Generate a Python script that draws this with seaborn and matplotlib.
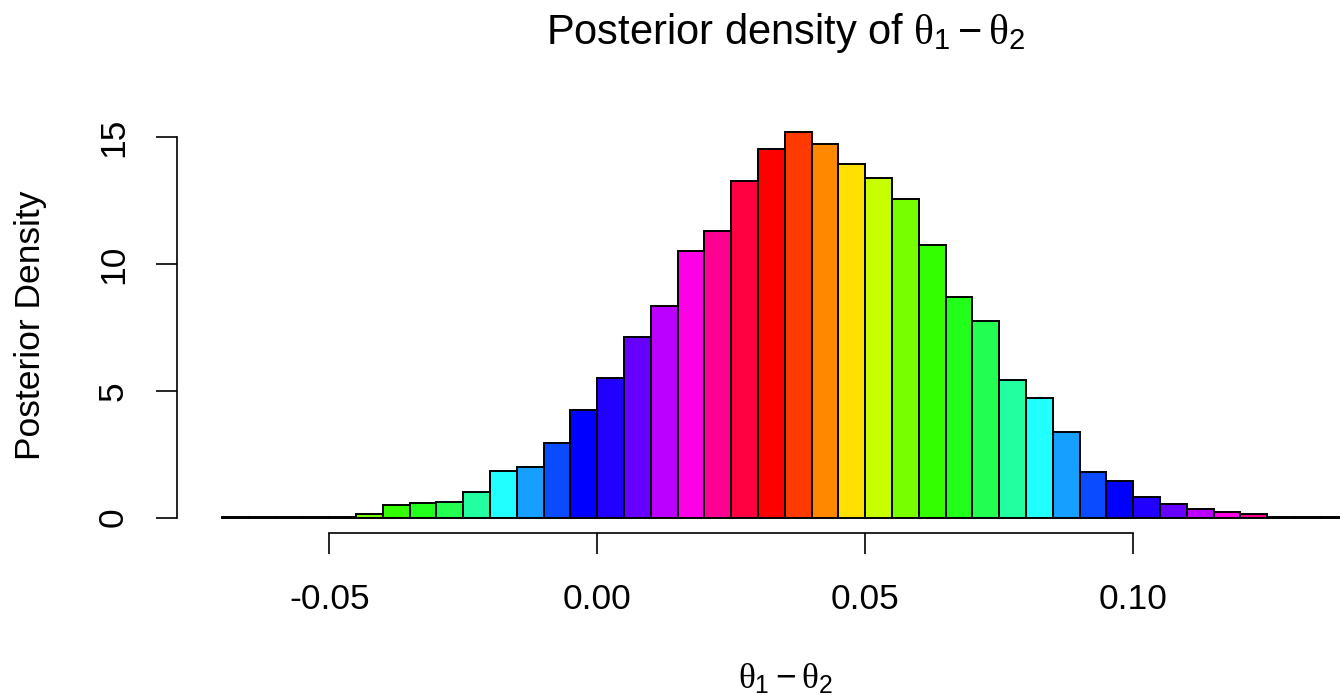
import numpy as np
import pandas as pd
import matplotlib
matplotlib.use("Agg")
import matplotlib.pyplot as plt
import seaborn as sns

# ---- data ----
bin_start = -0.070
bin_width = 0.005
densities = [0.02, 0.01, 0.02, 0.02, 0.04, 0.13, 0.50, 0.58, 0.63, 1.00,
             1.83, 1.99, 2.93, 4.26, 5.51, 7.12, 8.33, 10.53, 11.29, 13.29,
             14.55, 15.19, 14.72, 13.95, 13.41, 12.55, 10.75, 8.70, 7.74, 5.41,
             4.70, 3.36, 1.79, 1.44, 0.81, 0.53, 0.33, 0.22, 0.15, 0.01,
             0.04, 0.02]
palette20 = ["#FF0000", "#FF3A00", "#FF8800", "#FFE000", "#C8FF00",
             "#77FF00", "#33FF00", "#22FF1A", "#22FF50", "#22FFA0",
             "#22FFFF", "#15A0FF", "#0A4BFF", "#0000FF", "#2200FF",
             "#6600FF", "#BB00FF", "#FF00E6", "#FF0090", "#FF0040"]
xtick_values = [-0.05, 0.0, 0.05, 0.10]
xtick_labels = ["-0.05", "0.00", "0.05", "0.10"]
ytick_values = [0, 5, 10, 15]
ytick_labels = ["0", "5", "10", "15"]
title_text = r"Posterior density of $\theta_1 - \theta_2$"
xlabel_text = r"$\theta_1 - \theta_2$"
ylabel_text = "Posterior Density"

sns.set_theme(style="white")
plt.rcParams["font.family"] = ["Liberation Sans", "DejaVu Sans"]
plt.rcParams["mathtext.fontset"] = "custom"
plt.rcParams["mathtext.rm"] = "Liberation Sans"
plt.rcParams["mathtext.it"] = "Liberation Serif"
plt.rcParams["mathtext.bf"] = "Liberation Sans:bold"

n = len(densities)
edges = [round(bin_start + bin_width * k, 6) for k in range(n + 1)]
mids = [round(e + bin_width / 2, 6) for e in edges[:-1]]
df = pd.DataFrame({"diff": mids, "density": densities})

W, H = 1340, 695
fig = plt.figure(figsize=(W / 100, H / 100), dpi=100)
ax = fig.add_axes([177 / W, (H - 533) / H, (W - 177) / W, 416 / H])

sns.histplot(data=df, x="diff", weights="density", bins=edges, stat="count",
             ax=ax, edgecolor="black", linewidth=1.4, alpha=1)
for i, p in enumerate(ax.patches):
    p.set_facecolor(palette20[i % len(palette20)])

ax.set_xlim(-0.0784, 0.1386)
ax.set_ylim(-0.6076, 15.80)

for s in ["top", "right"]:
    ax.spines[s].set_visible(False)
for s in ["left", "bottom"]:
    ax.spines[s].set_color("black")
    ax.spines[s].set_linewidth(1.2)
ax.spines["left"].set_bounds(0, 15)
ax.spines["bottom"].set_bounds(-0.05, 0.10)

ax.set_xticks(xtick_values)
ax.set_xticklabels(xtick_labels)
ax.set_yticks(ytick_values)
ax.set_yticklabels(ytick_labels, rotation=90, va="center")
ax.tick_params(axis="both", which="major", bottom=True, left=True,
               direction="out", length=15, width=1.2,
               color="black", labelsize=25.5, labelcolor="black")
ax.tick_params(axis="x", pad=21)
ax.tick_params(axis="y", pad=19)
ax.grid(False)

ax.set_xlabel(xlabel_text, fontsize=25.5, color="black")
ax.set_ylabel(ylabel_text, fontsize=25.5, color="black")
ax.xaxis.set_label_coords((785 - 177) / 1163, -(662 - 533) / 416)
ax.yaxis.set_label_coords(-(177 - 47) / 1163, 0.5)

ax.set_title(title_text, fontsize=30, color="black", x=(785 - 177) / 1163,
             y=(533 - 44) / 416, pad=0, va="baseline")

fig.savefig("out.png", dpi=100)
